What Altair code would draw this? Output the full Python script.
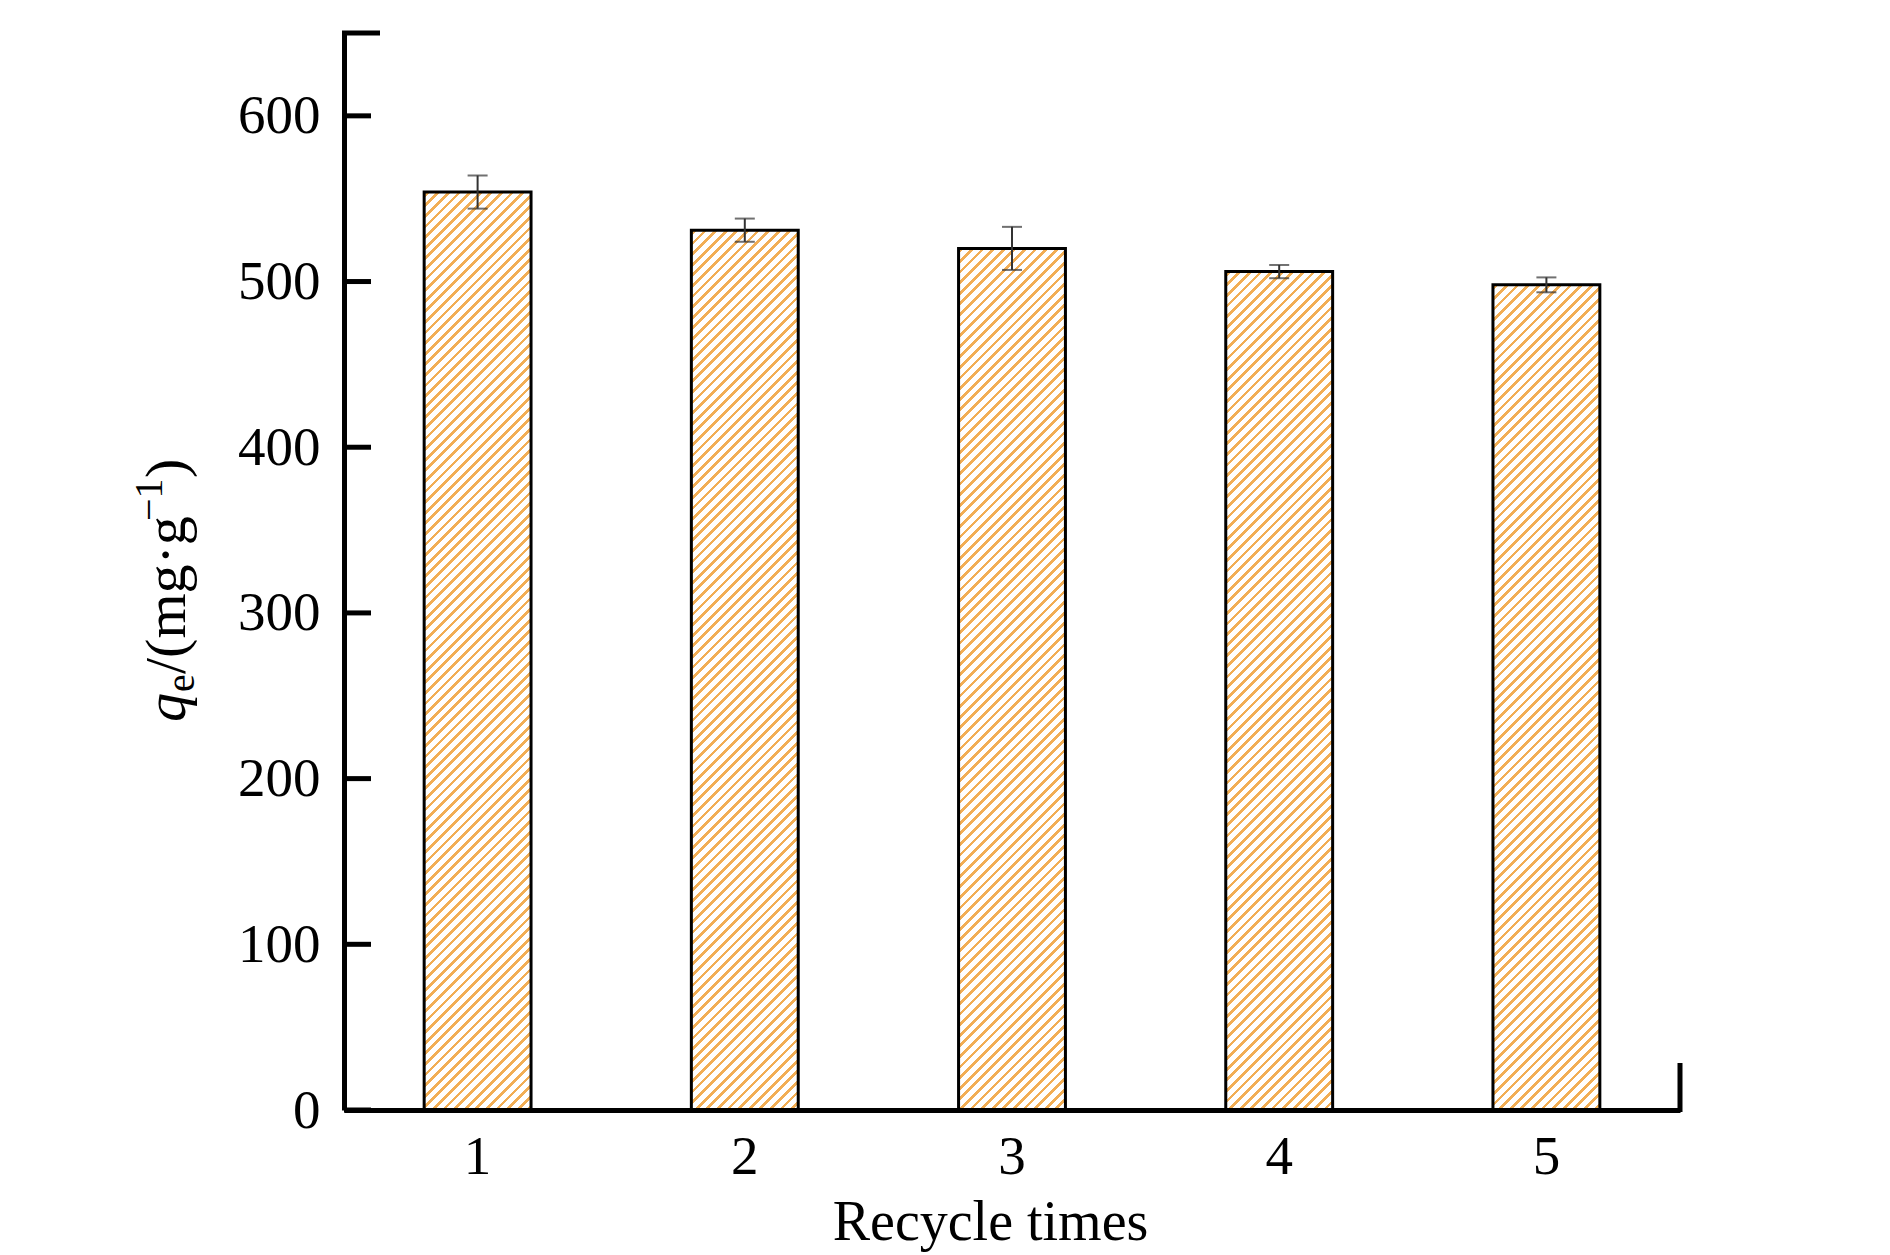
import altair as alt
import pandas as pd

# ---- data ----
cycles = ["1", "2", "3", "4", "5"]
qe = [554, 531, 520, 506, 498]
err = [10, 7, 13, 4, 4.5]
y_ticks = [0, 100, 200, 300, 400, 500, 600]

# ---- styling ----
W, H = 1336, 1077
YMAX = 650
ORANGE = "#F2AE55"
FONT = "Liberation Serif"

df = pd.DataFrame({"cycle": cycles, "qe": qe, "err": err})
df["lo"] = df["qe"] - df["err"]
df["hi"] = df["qe"] + df["err"]
ticks_df = pd.DataFrame({"t": y_ticks})
one = pd.DataFrame({"k": [0]})

y_scale = alt.Scale(domain=[0, YMAX], nice=False, zero=True)
x_axis = alt.Axis(
    domain=True, domainColor="black", domainWidth=5, ticks=False, tickSize=0,
    labelFont=FONT, labelFontSize=55, labelColor="black", labelPadding=20, labelAngle=0,
    title="Recycle times", titleFont=FONT, titleFontSize=56, titleFontWeight="normal",
    titleColor="black", titleX=646, titleY=129, titleBaseline="alphabetic",
    titleAlign="center", grid=False, zindex=1,
)
y_axis = alt.Axis(
    domain=True, domainColor="black", domainWidth=5, ticks=False, tickSize=0,
    values=y_ticks, labelFont=FONT, labelFontSize=55, labelColor="black",
    labelPadding=24, grid=False, title=None, zindex=1,
)
x_enc = alt.X("cycle:N", sort=cycles,
              scale=alt.Scale(paddingInner=0.6, paddingOuter=0.3), axis=x_axis)

bar_w = 0.4 * W / len(cycles)
layers = []
for i, c in enumerate(cycles):
    h = qe[i] * H / YMAX
    w = bar_w
    s = w + h
    k = s / (w * w + h * h)
    period, thick = 10.6, 3.8
    stops = [alt.GradientStop(color="white", offset=0)]
    pos = 2.0
    while pos + thick < s:
        a, b = pos / s, (pos + thick) / s
        stops += [alt.GradientStop(color="white", offset=a),
                  alt.GradientStop(color=ORANGE, offset=a),
                  alt.GradientStop(color=ORANGE, offset=b),
                  alt.GradientStop(color="white", offset=b)]
        pos += period
    stops.append(alt.GradientStop(color="white", offset=1))
    grad = alt.LinearGradient(gradient="linear", stops=stops,
                              x1=0, y1=0, x2=k * w, y2=k * h)
    layers.append(
        alt.Chart(df).transform_filter(alt.datum.cycle == c)
        .mark_bar(fill=grad, stroke="black", strokeWidth=3)
        .encode(x=x_enc, y=alt.Y("qe:Q", scale=y_scale, axis=y_axis))
    )

err_rule = alt.Chart(df).mark_rule(color="#333333", strokeWidth=2).encode(
    x=x_enc, y=alt.Y("lo:Q", scale=y_scale, axis=y_axis), y2="hi:Q")
cap_hi = alt.Chart(df).mark_tick(color="#333333", thickness=2, size=20).encode(
    x=x_enc, y=alt.Y("hi:Q", scale=y_scale, axis=y_axis))
cap_lo = alt.Chart(df).mark_tick(color="#333333", thickness=2, size=20).encode(
    x=x_enc, y=alt.Y("lo:Q", scale=y_scale, axis=y_axis))

tick_marks = alt.Chart(ticks_df).mark_rule(color="black", strokeWidth=5).encode(
    y=alt.Y("t:Q", scale=y_scale, axis=y_axis), x=alt.value(0), x2=alt.value(27))

top_cap = alt.Chart(one).mark_rule(color="black", strokeWidth=5).encode(
    x=alt.value(-2), x2=alt.value(36), y=alt.value(0))
right_stub = alt.Chart(one).mark_rule(color="black", strokeWidth=5).encode(
    x=alt.value(W), y=alt.value(H - 47), y2=alt.value(H + 2))

def txt(t, x, y, size, italic=False):
    kw = dict(text=t, angle=270, align="left", baseline="alphabetic",
              font=FONT, fontSize=size, color="black")
    if italic:
        kw["fontStyle"] = "italic"
    return alt.Chart(one).mark_text(**kw).encode(x=alt.value(x), y=alt.value(y))

title_parts = [
    txt("q", -159, 689, 58, italic=True),
    txt("e", -150, 659, 40),
    txt("/(mg\u00b7g", -159, 641, 58),
    txt("\u22121", -182, 488, 40),
    txt(")", -159, 445, 58),
]

chart = alt.layer(
    *layers, err_rule, cap_hi, cap_lo, tick_marks, top_cap, right_stub, *title_parts
).properties(
    width=W, height=H,
    autosize=alt.AutoSizeParams(type="none"),
    padding={"left": 336, "top": 25, "right": 150, "bottom": 142},
    background="white",
).configure_view(stroke=None)

chart.save("out.html", embed_options={"renderer": "svg", "actions": False})
